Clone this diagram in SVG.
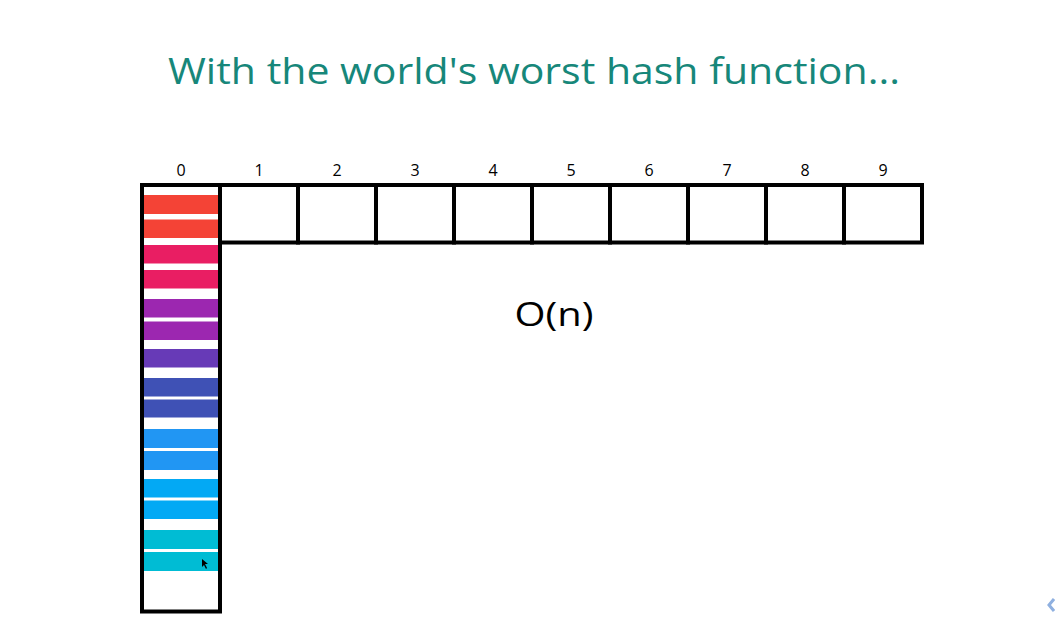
<svg xmlns="http://www.w3.org/2000/svg" width="1055" height="619" viewBox="0 0 1055 619">
<style>
.title{font-family:"Open Sans","Noto Sans",sans-serif;font-size:36px;fill:#17877a;text-anchor:middle}
.idx{font-family:"Open Sans","Noto Sans",sans-serif;font-size:16px;fill:#000;text-anchor:middle}
.big{font-family:"Open Sans","Noto Sans",sans-serif;font-size:33px;fill:#000;text-anchor:middle}
.cell{fill:none;stroke:#000;stroke-width:4}
.bar{stroke:none}
</style>
<rect width="1055" height="619" fill="#fff"/>
<text class="title" x="534" y="84" textLength="732" lengthAdjust="spacingAndGlyphs">With the world's worst hash function...</text>
<g id="indices">
<text class="idx" x="181" y="176">0</text>
<text class="idx" x="259" y="176">1</text>
<text class="idx" x="337" y="176">2</text>
<text class="idx" x="415" y="176">3</text>
<text class="idx" x="493" y="176">4</text>
<text class="idx" x="571" y="176">5</text>
<text class="idx" x="649" y="176">6</text>
<text class="idx" x="727" y="176">7</text>
<text class="idx" x="805" y="176">8</text>
<text class="idx" x="883" y="176">9</text>
</g>
<g id="bucket0-items">
<rect class="bar" x="143" y="195" width="75" height="19" fill="#f44336"/>
<rect class="bar" x="143" y="219.5" width="75" height="18.5" fill="#f44336"/>
<rect class="bar" x="143" y="245" width="75" height="18.5" fill="#e91e63"/>
<rect class="bar" x="143" y="270" width="75" height="18.5" fill="#e91e63"/>
<rect class="bar" x="143" y="299" width="75" height="18.5" fill="#9c27b0"/>
<rect class="bar" x="143" y="321.5" width="75" height="18.5" fill="#9c27b0"/>
<rect class="bar" x="143" y="349" width="75" height="18.5" fill="#673ab7"/>
<rect class="bar" x="143" y="378" width="75" height="18.5" fill="#3f51b5"/>
<rect class="bar" x="143" y="399.5" width="75" height="18" fill="#3f51b5"/>
<rect class="bar" x="143" y="429" width="75" height="19" fill="#2196f3"/>
<rect class="bar" x="143" y="451" width="75" height="19" fill="#2196f3"/>
<rect class="bar" x="143" y="479" width="75" height="18.5" fill="#03a9f4"/>
<rect class="bar" x="143" y="500.5" width="75" height="18.5" fill="#03a9f4"/>
<rect class="bar" x="143" y="530" width="75" height="19" fill="#00bcd4"/>
<rect class="bar" x="143" y="552" width="75" height="19" fill="#00bcd4"/>
</g>
<g id="table">
<rect class="cell" x="142" y="185" width="78" height="426.5"/>
<rect class="cell" x="220" y="185" width="78" height="57.5"/>
<rect class="cell" x="298" y="185" width="78" height="57.5"/>
<rect class="cell" x="376" y="185" width="78" height="57.5"/>
<rect class="cell" x="454" y="185" width="78" height="57.5"/>
<rect class="cell" x="532" y="185" width="78" height="57.5"/>
<rect class="cell" x="610" y="185" width="78" height="57.5"/>
<rect class="cell" x="688" y="185" width="78" height="57.5"/>
<rect class="cell" x="766" y="185" width="78" height="57.5"/>
<rect class="cell" x="844" y="185" width="78" height="57.5"/>
</g>
<text class="big" x="554" y="326" textLength="79" lengthAdjust="spacingAndGlyphs">O(n)</text>
<path d="M202 559 L202 567 L204 565 L206 569 L207 568 L205 564 L208 564 Z" fill="#000"/>
<path d="M1054 599 L1049 605 L1054 611" fill="none" stroke="#8fb0e0" stroke-width="3"/>
</svg>
